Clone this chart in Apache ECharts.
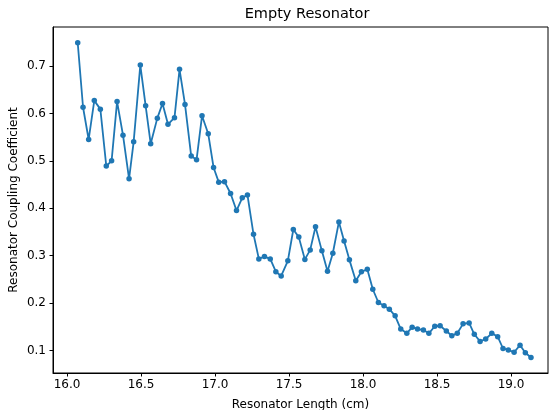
<!DOCTYPE html>
<html>
<head>
<meta charset="utf-8">
<script src="https://cdn.jsdelivr.net/npm/echarts@6/dist/echarts.min.js"></script>
<style>
    html, body { margin: 0; padding: 0; background: #fff; }
    #chart { width: 551px; height: 410px; }
</style>
</head>
<body>
<div id="chart"></div>
<script>
// 谐振腔长度 (cm)
var lengths = [
    16.072, 16.108, 16.146, 16.184, 16.225, 16.265, 16.301, 16.338, 16.378, 16.419,
    16.450, 16.495, 16.531, 16.565, 16.610, 16.645, 16.682, 16.726, 16.760, 16.797,
    16.839, 16.875, 16.912, 16.954, 16.990, 17.025, 17.064, 17.105, 17.145, 17.184,
    17.219, 17.260, 17.296, 17.334, 17.373, 17.411, 17.447, 17.492, 17.529, 17.566,
    17.607, 17.643, 17.679, 17.722, 17.760, 17.796, 17.837, 17.872, 17.908, 17.951,
    17.989, 18.029, 18.066, 18.104, 18.142, 18.178, 18.217, 18.255, 18.296, 18.332,
    18.368, 18.408, 18.445, 18.485, 18.521, 18.563, 18.600, 18.637, 18.676, 18.717,
    18.752, 18.791, 18.829, 18.870, 18.910, 18.946, 18.982, 19.021, 19.061, 19.097,
    19.135
];
// 耦合系数
var coupling = [
    0.749, 0.613, 0.545, 0.627, 0.609, 0.489, 0.500, 0.625, 0.554, 0.462,
    0.540, 0.702, 0.616, 0.536, 0.590, 0.621, 0.577, 0.591, 0.693, 0.619,
    0.510, 0.502, 0.595, 0.557, 0.486, 0.455, 0.456, 0.431, 0.395, 0.422,
    0.428, 0.345, 0.293, 0.298, 0.293, 0.266, 0.257, 0.289, 0.355, 0.339,
    0.292, 0.312, 0.361, 0.310, 0.267, 0.305, 0.371, 0.331, 0.291, 0.247,
    0.266, 0.271, 0.229, 0.201, 0.194, 0.187, 0.173, 0.145, 0.136, 0.149,
    0.145, 0.143, 0.136, 0.151, 0.152, 0.141, 0.131, 0.136, 0.156, 0.158,
    0.134, 0.119, 0.124, 0.136, 0.129, 0.104, 0.101, 0.096, 0.111, 0.095,
    0.085
];
var xTicks = [16.0, 16.5, 17.0, 17.5, 18.0, 18.5, 19.0];
var yTicks = [0.1, 0.2, 0.3, 0.4, 0.5, 0.6, 0.7];

var fontFamily = 'DejaVu Sans';
var blue = '#1f77b4';

var chart = echarts.init(document.getElementById('chart'), null, { renderer: 'canvas' });

var points = [];
for (var i = 0; i < lengths.length; i++) {
    points.push([lengths[i], coupling[i]]);
}

var option = {
    animation: false,
    backgroundColor: '#fff',
    title: {
        text: 'Empty Resonator',
        left: 302,
        top: 2,
        textAlign: 'center',
        textStyle: {
            fontFamily: fontFamily,
            fontSize: 14.5,
            fontWeight: 'normal',
            color: '#000'
        }
    },
    grid: {
        left: 53,
        right: 3,
        top: 27,
        bottom: 37,
        outerBoundsMode: 'none',
        containLabel: false,
        show: true,
        borderColor: '#000',
        borderWidth: 1
    },
    xAxis: {
        type: 'value',
        min: 15.905,
        max: 19.25,
        name: 'Resonator Length (cm)',
        nameLocation: 'middle',
        nameGap: 26,
        nameMoveOverlap: false,
        nameTextStyle: { fontFamily: fontFamily, fontSize: 12, color: '#000' },
        axisLine: { lineStyle: { color: '#000', width: 1 } },
        axisTick: { show: true, length: 3.5, customValues: xTicks, lineStyle: { color: '#000' } },
        axisLabel: {
            customValues: xTicks,
            margin: 6,
            fontFamily: fontFamily,
            fontSize: 12,
            color: '#000',
            formatter: function (v) { return v.toFixed(1); }
        },
        splitLine: { show: false }
    },
    yAxis: {
        type: 'value',
        min: 0.0523,
        max: 0.7823,
        name: 'Resonator Coupling Coefficient',
        nameLocation: 'middle',
        nameGap: 33,
        nameMoveOverlap: false,
        nameTextStyle: { fontFamily: fontFamily, fontSize: 12, color: '#000' },
        axisLine: { show: true, lineStyle: { color: '#000', width: 1 } },
        axisTick: { show: true, length: 3.5, customValues: yTicks, lineStyle: { color: '#000' } },
        axisLabel: {
            customValues: yTicks,
            margin: 7,
            fontFamily: fontFamily,
            fontSize: 12,
            color: '#000',
            formatter: function (v) { return v.toFixed(1); }
        },
        splitLine: { show: false }
    },
    series: [{
        type: 'line',
        data: points,
        symbol: 'circle',
        symbolSize: 5.5,
        showAllSymbol: true,
        itemStyle: { color: blue },
        lineStyle: { color: blue, width: 1.8 }
    }]
};

chart.setOption(option);
</script>
</body>
</html>
